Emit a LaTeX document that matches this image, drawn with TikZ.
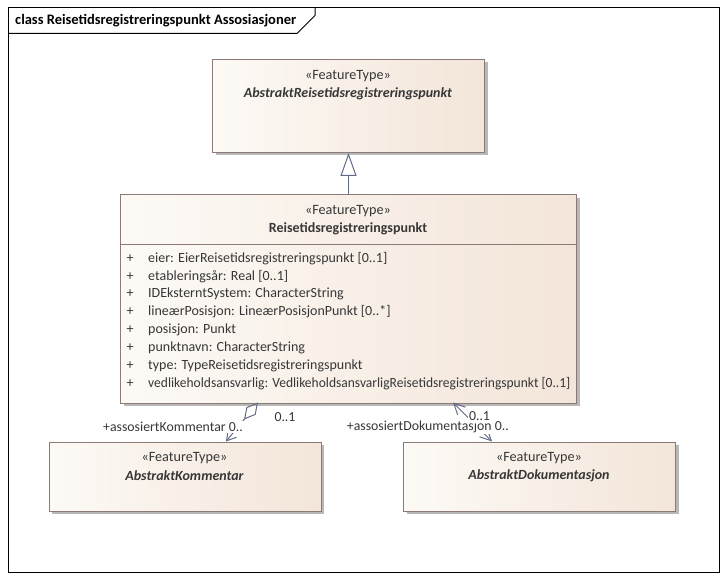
\documentclass[tikz,border=0pt]{standalone}
\usepackage{fontspec}
\setmainfont{Carlito}
\usetikzlibrary{arrows.meta,shadows}
\definecolor{boxborder}{RGB}{140,122,118}
\definecolor{boxleft}{RGB}{253,250,246}
\definecolor{boxright}{RGB}{243,229,217}
\definecolor{conn}{RGB}{98,106,135}
\definecolor{txt}{RGB}{55,55,55}
\begin{document}
\begin{tikzpicture}[x=1pt,y=-1pt,
  umlbox/.style={draw=boxborder, line width=1pt, rectangle, anchor=north west, inner sep=0pt,
    left color=boxleft, right color=boxright,
    drop shadow={shadow xshift=3pt, shadow yshift=-3pt, fill=black!28, opacity=1}},
  stereo/.style={font=\fontsize{14.2}{16}\selectfont, text=txt, inner sep=0pt},
  cname/.style={font=\bfseries\fontsize{14}{16}\selectfont, text=txt, inner sep=0pt},
  aname/.style={font=\bfseries\itshape\fontsize{14}{16}\selectfont, text=txt, inner sep=0pt},
  attr/.style={font=\fontsize{14}{16}\selectfont, text=txt, inner sep=0pt, anchor=west},
  lbl/.style={font=\fontsize{13.8}{16}\selectfont, text=txt, fill=white, inner sep=1pt},
  conline/.style={draw=conn, line width=1pt},
  gen/.style={conline, -{Triangle[open, length=23pt, width=16pt, fill=white]}},
  agg/.style={conline, {Diamond[open, length=22pt, width=12pt]}-{Straight Barb[length=9pt, width=11pt]}},
  nav/.style={conline, {Straight Barb[length=11pt, width=11pt]}-{Straight Barb[length=11pt, width=11pt]}}
]
\useasboundingbox[fill=white] (0,0) rectangle (726,580);
% frame
\draw[line width=1pt] (8,8) rectangle (719,572);
\draw[line width=1pt] (8,33.5) -- (297,33.5) -- (315,15.5) -- (315,8);
\node[anchor=west, font=\bfseries\fontsize{14.5}{16}\selectfont, inner sep=0pt] (title) at (15,21) {class Reisetidsregistreringspunkt Assosiasjoner};

% boxes
\node[umlbox, minimum width=272pt, minimum height=93pt] (abs) at (212,59) {};
\node[umlbox, minimum width=456pt, minimum height=208pt] (main) at (120,194.5) {};
\node[umlbox, minimum width=272pt, minimum height=69pt] (kom) at (48.5,441.5) {};
\node[umlbox, minimum width=272pt, minimum height=69pt] (dok) at (403,441.5) {};

\node[stereo] (absS) at (348,76.5) {«FeatureType»};
\node[aname] (absN) at (348,94) {AbstraktReisetidsregistreringspunkt};

\node[stereo] (mainS) at (348,211) {«FeatureType»};
\node[cname] (mainN) at (348,228.5) {Reisetidsregistreringspunkt};
\draw[draw=boxborder, line width=1pt] (main.west |- 0,244.5) coordinate (sepL) -- (main.east |- 0,244.5) coordinate (sepR);

\foreach \i/\t in {0/{eier: EierReisetidsregistreringspunkt [0..1]},
                   1/{etableringsår: Real [0..1]},
                   2/{IDEksterntSystem: CharacterString},
                   3/{lineærPosisjon: LineærPosisjonPunkt [0..*]},
                   4/{posisjon: Punkt},
                   5/{punktnavn: CharacterString},
                   6/{type: TypeReisetidsregistreringspunkt}}{
  \node[attr, anchor=center] (plus\i) at (130,258.3+17.86*\i) {+};
  \node[attr] (att\i) at (148,258.3+17.86*\i) {\t};
}
\node[attr, anchor=center] (plus7) at (130,258.3+17.86*7) {+};
\node[attr] (att7) at (148,258.3+17.86*7) {\scalebox{0.965}[1]{vedlikeholdsansvarlig: VedlikeholdsansvarligReisetidsregistreringspunkt [0..1]}};

\node[stereo] (komS) at (184.5,458) {«FeatureType»};
\node[aname] (komN) at (184.5,475.5) {AbstraktKommentar};
\node[stereo] (dokS) at (539,458) {«FeatureType»};
\node[aname] (dokN) at (539,475.5) {AbstraktDokumentasjon};

% connectors
\draw[gen] (main.north) -- (abs.south);

\coordinate (a1s) at (258,402.5);
\coordinate (a1e) at (226,441.5);
\coordinate (a2s) at (453,402.5);
\coordinate (a2e) at (492,441.5);
\draw[agg] (a1s) -- (a1e);
\draw[nav] (a2s) -- (a2e);

\node[lbl, anchor=east] (l1r) at (244,427) {+assosiertKommentar 0..};
\node[lbl] (l1m) at (285,417) {0..1};
\node[lbl, anchor=east] (l2r) at (510,427) {+assosiertDokumentasjon 0..};
\node[lbl] (l2m) at (479.5,416) {0..1};
\end{tikzpicture}
\end{document}
